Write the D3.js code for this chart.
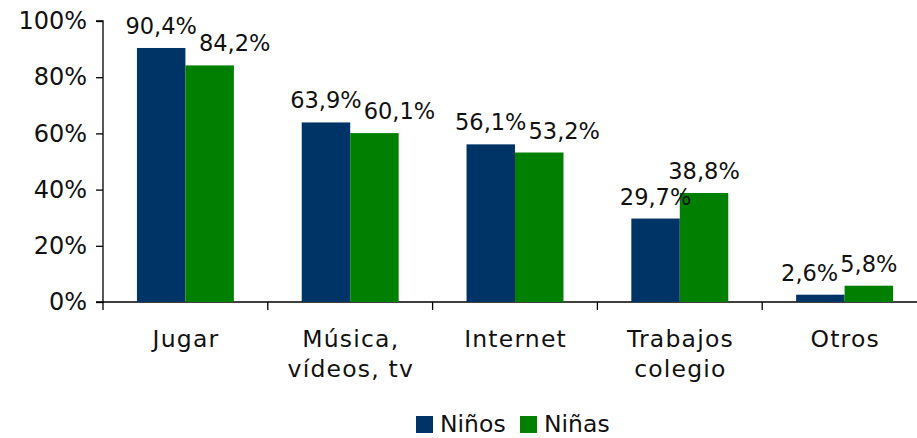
<!DOCTYPE html>
<html><head><meta charset="utf-8">
<script src="https://cdn.jsdelivr.net/npm/d3@7/dist/d3.min.js"></script>
<style>
html,body{margin:0;padding:0;background:#fff;}
svg{display:block;font-family:"DejaVu Sans",Verdana,sans-serif;}
</style></head>
<body><svg id="c" width="917" height="438"></svg>
<script>
const categories = [["Jugar"], ["Música,", "vídeos, tv"], ["Internet"], ["Trabajos", "colegio"], ["Otros"]];
const seriesNames = ["Niños", "Niñas"];
const ninos = [90.4, 63.9, 56.1, 29.7, 2.6];
const ninas = [84.2, 60.1, 53.2, 38.8, 5.8];
const yTicks = [0, 20, 40, 60, 80, 100];
const colors = ["#003366", "#007f00"];

(function () {
const svg = d3.select("#c");
const pLeft = 103, pTop = 21, pBottom = 302, pRight = 927;
const x = d3.scaleBand().domain(d3.range(categories.length)).range([pLeft, pRight]).paddingInner(0).paddingOuter(0);
const inner = d3.scaleBand().domain([0, 1]).range([0, x.bandwidth()]).paddingInner(0).paddingOuter(0.7);
const y = d3.scaleLinear().domain([0, 100]).range([pBottom, pTop]);

// y axis
const ya = svg.append("g").attr("transform", `translate(${pLeft},0)`)
  .call(d3.axisLeft(y).tickValues(yTicks).tickFormat(d => d + "%").tickSize(7).tickPadding(9));
ya.select(".domain").attr("stroke", "#000").attr("stroke-width", 1.3).attr("d", `M-7,${pTop}H0V${pBottom}H-7`);
ya.selectAll(".tick line").attr("stroke", "#000").attr("stroke-width", 1.3);
ya.selectAll(".tick text").attr("font-size", 24).attr("fill", "#111")
  .attr("font-family", "DejaVu Sans, Verdana, sans-serif");

// x axis line and ticks
const xa = svg.append("g").attr("transform", `translate(0,${pBottom})`)
  .call(d3.axisBottom(x).tickSize(0).tickFormat(""));
xa.select(".domain").attr("stroke", "#000").attr("stroke-width", 1.3).attr("d", `M${pLeft},0H${pRight}`);
xa.selectAll(".tick").remove();
svg.append("g").selectAll("line").data(d3.range(categories.length + 1)).join("line")
  .attr("x1", i => pLeft + i * x.bandwidth()).attr("x2", i => pLeft + i * x.bandwidth())
  .attr("y1", pBottom).attr("y2", pBottom + 8).attr("stroke", "#000").attr("stroke-width", 1.3);

// bars
const data = [ninos, ninas];
const g = svg.append("g");
data.forEach((vals, s) => {
  g.selectAll(".b" + s).data(vals).join("rect").attr("class", "b" + s)
    .attr("x", (d, i) => x(i) + inner(s))
    .attr("width", inner.bandwidth())
    .attr("y", d => y(d))
    .attr("height", d => y(0) - y(d))
    .attr("fill", colors[s]);
});

// value labels with simple collision avoidance
const fmt = v => v.toFixed(1).replace(".", ",") + "%";
const lg = svg.append("g").attr("font-size", 22.5).attr("fill", "#111").attr("text-anchor", "middle");
categories.forEach((c, i) => {
  const items = data.map((vals, s) => {
    const cx = x(i) + inner(s) + inner.bandwidth() / 2;
    const base = y(vals[i]) - 14;
    const t = lg.append("text").text(fmt(vals[i])).attr("x", cx).attr("y", base);
    const w = t.node().getComputedTextLength();
    return {t, w, cx, base, v: vals[i]};
  });
  const [a, b] = items;
  const overlapX = (a.cx + a.w / 2) - (b.cx - b.w / 2) + 2;
  const overlapY = Math.abs(a.base - b.base) < 22;
  if (overlapX > 0 && overlapY) {
    if (a.v >= b.v) b.t.attr("x", b.cx + overlapX);
    else a.t.attr("x", a.cx - overlapX);
  }
});

// category labels
const ls = 1.2;
const cg = svg.append("g").attr("font-size", 23.5).attr("fill", "#111").attr("text-anchor", "middle").attr("letter-spacing", ls);
categories.forEach((lines, i) => {
  const cx = x(i) + x.bandwidth() / 2 + ls / 2;
  const t = cg.append("text").attr("x", cx).attr("y", 347);
  lines.forEach((ln, k) => t.append("tspan").attr("x", cx).attr("y", 347 + k * 30).text(ln));
});

// legend
const leg = svg.append("g").attr("font-size", 23.5).attr("fill", "#111");
const legX = [416, 520];
seriesNames.forEach((n, s) => {
  leg.append("rect").attr("x", legX[s]).attr("y", 416).attr("width", 17).attr("height", 17).attr("fill", colors[s]);
  leg.append("text").attr("x", legX[s] + 24).attr("y", 432).text(n);
});
})();
</script></body></html>
